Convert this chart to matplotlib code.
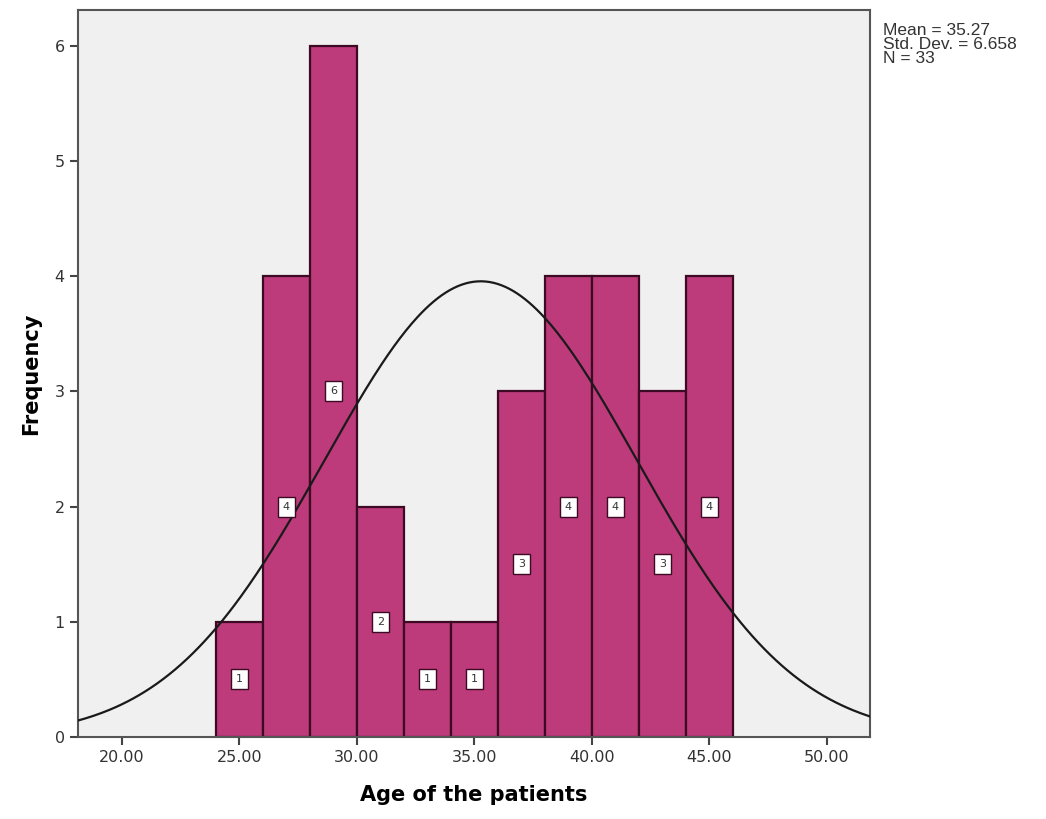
import matplotlib.pyplot as plt
import numpy as np

# histogram bins (age, width 2) and counts
bin_edges = [24, 26, 28, 30, 32, 34, 36, 38, 40, 42, 44, 46]
counts = [1, 4, 6, 2, 1, 1, 3, 4, 4, 3, 4]
mean_age = 35.27
sd_age = 6.658
n_patients = 33
x_ticks = [20, 25, 30, 35, 40, 45, 50]
y_ticks = [0, 1, 2, 3, 4, 5, 6]

fig = plt.figure(figsize=(10.46, 8.19), dpi=100)
ax = fig.add_axes([0.0746, 0.100, 0.757, 0.888])
ax.set_facecolor("#f0f0f0")

edges = np.array(bin_edges, dtype=float)
width = np.diff(edges)
ax.bar(edges[:-1], counts, width=width, align="edge", color="#bd3a7b",
       edgecolor="#3d0a24", linewidth=1.6, zorder=2)

# bar value labels in the middle of each bar
for left, w, c in zip(edges[:-1], width, counts):
    ax.text(left + w / 2, c / 2, str(c), ha="center", va="center", fontsize=8,
            color="#333333", zorder=4,
            bbox=dict(boxstyle="square,pad=0.45", fc="white", ec="#3d0a24", lw=1.0))

# normal curve scaled to counts
xs = np.linspace(18.1, 51.9, 400)
bw = width[0]
ys = n_patients * bw / (sd_age * np.sqrt(2 * np.pi)) * np.exp(-0.5 * ((xs - mean_age) / sd_age) ** 2)
ax.plot(xs, ys, color="#1a1a1a", linewidth=1.6, zorder=3)

ax.set_xlim(18.13, 51.83)
ax.set_ylim(0, 6.31)
ax.set_xticks(x_ticks)
ax.set_xticklabels([f"{t:.2f}" for t in x_ticks], fontsize=11.5, color="#333333")
ax.set_yticks(y_ticks)
ax.set_yticklabels([str(t) for t in y_ticks], fontsize=11.5, color="#333333")
ax.tick_params(direction="out", length=6, width=1.5, color="#444444")
for s in ax.spines.values():
    s.set_color("#555555")
    s.set_linewidth(1.5)

ax.set_xlabel("Age of the patients", fontsize=15, fontweight="bold", labelpad=14)
ax.set_ylabel("Frequency", fontsize=15, fontweight="bold", labelpad=10)

fig.text(0.844, 0.972, f"Mean = {mean_age:.2f}\nStd. Dev. = {sd_age:.3f}\nN = {n_patients}",
         ha="left", va="top", fontsize=12.5, color="#333333", linespacing=0.9,
         family="Liberation Sans")

fig.savefig("out.png", dpi=100)
